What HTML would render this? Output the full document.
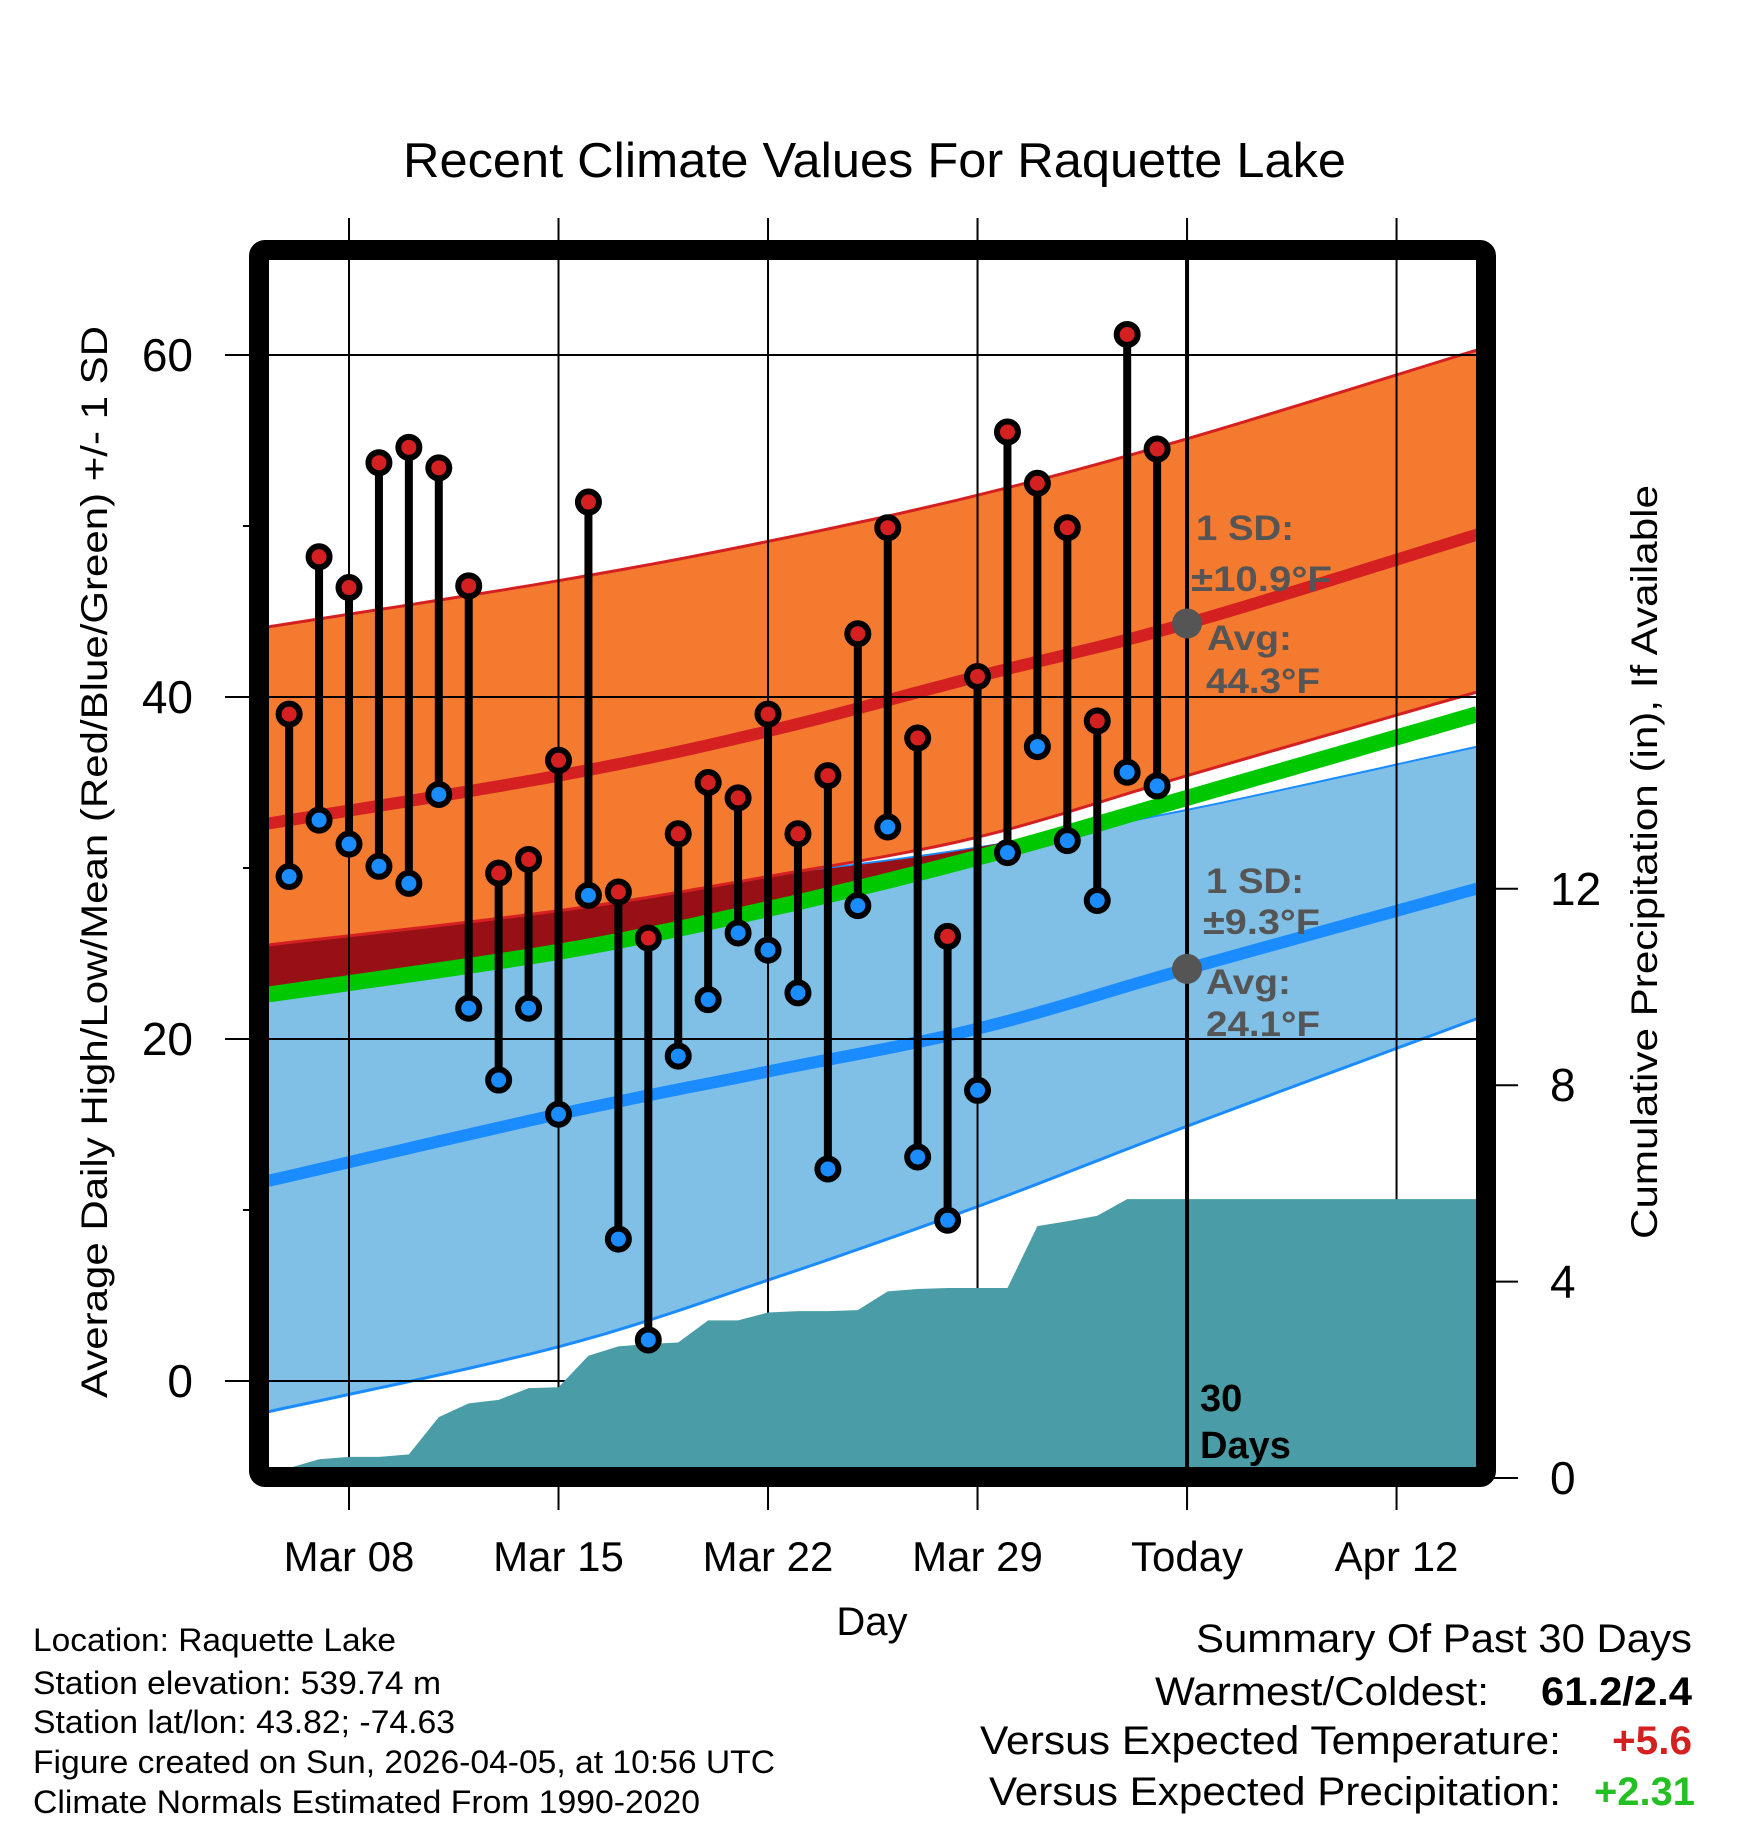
<!DOCTYPE html>
<html><head><meta charset="utf-8"><style>
html,body{margin:0;padding:0;background:#fff;}
svg{display:block;font-family:"Liberation Sans",Arial,sans-serif;}
</style></head><body>
<svg id="chart" width="1748" height="1828" viewBox="0 0 1748 1828" xmlns="http://www.w3.org/2000/svg">
<defs><clipPath id="plotclip"><rect x="268" y="258" width="1211" height="1212"/></clipPath></defs>
<text x="403" y="177" font-size="49" textLength="943" lengthAdjust="spacingAndGlyphs">Recent Climate Values For Raquette Lake</text>
<g id="bands" clip-path="url(#plotclip)"></g>
<g id="grid"></g>
<g id="precip" clip-path="url(#plotclip)"></g>
<g id="marks"></g>
<g id="annot" font-weight="bold" fill="#555" font-size="35">
<text x="1196" y="540" textLength="98" lengthAdjust="spacingAndGlyphs">1 SD:</text>
<text x="1191" y="591" textLength="141" lengthAdjust="spacingAndGlyphs">±10.9°F</text>
<text x="1207" y="650" textLength="85" lengthAdjust="spacingAndGlyphs">Avg:</text>
<text x="1206" y="693" textLength="114" lengthAdjust="spacingAndGlyphs">44.3°F</text>
<text x="1206" y="893" textLength="98" lengthAdjust="spacingAndGlyphs">1 SD:</text>
<text x="1203" y="934" textLength="117" lengthAdjust="spacingAndGlyphs">±9.3°F</text>
<text x="1206" y="994" textLength="85" lengthAdjust="spacingAndGlyphs">Avg:</text>
<text x="1206" y="1036" textLength="114" lengthAdjust="spacingAndGlyphs">24.1°F</text>
</g>
<g font-weight="bold" fill="#000" font-size="38">
<text x="1200" y="1411">30</text>
<text x="1200" y="1458">Days</text>
</g>
<rect x="259" y="250" width="1227" height="1227" rx="6" fill="none" stroke="#000" stroke-width="20"/>
<g id="axes"></g>
<text x="872" y="1635" font-size="40" text-anchor="middle">Day</text>
<text transform="translate(107,862) rotate(-90)" font-size="37" text-anchor="middle" textLength="1072" lengthAdjust="spacingAndGlyphs">Average Daily High/Low/Mean (Red/Blue/Green) +/- 1 SD</text>
<text transform="translate(1657,862) rotate(-90)" font-size="37" text-anchor="middle" textLength="754" lengthAdjust="spacingAndGlyphs">Cumulative Precipitation (in), If Available</text>
<g font-size="32">
<text x="33" y="1651" textLength="363" lengthAdjust="spacingAndGlyphs">Location: Raquette Lake</text>
<text x="33" y="1694" textLength="408" lengthAdjust="spacingAndGlyphs">Station elevation: 539.74 m</text>
<text x="33" y="1733" textLength="422" lengthAdjust="spacingAndGlyphs">Station lat/lon: 43.82; -74.63</text>
<text x="33" y="1773" textLength="742" lengthAdjust="spacingAndGlyphs">Figure created on Sun, 2026-04-05, at 10:56 UTC</text>
<text x="33" y="1813" textLength="667" lengthAdjust="spacingAndGlyphs">Climate Normals Estimated From 1990-2020</text>
</g>
<g font-size="40">
<text x="1196" y="1652" textLength="496" lengthAdjust="spacingAndGlyphs">Summary Of Past 30 Days</text>
<text x="1155" y="1705" textLength="334" lengthAdjust="spacingAndGlyphs">Warmest/Coldest:</text>
<text x="1541" y="1705" font-weight="bold" textLength="151" lengthAdjust="spacingAndGlyphs">61.2/2.4</text>
<text x="980" y="1754" textLength="581" lengthAdjust="spacingAndGlyphs">Versus Expected Temperature:</text>
<text x="1612" y="1754" font-weight="bold" fill="#d42020" textLength="80" lengthAdjust="spacingAndGlyphs">+5.6</text>
<text x="989" y="1805" textLength="572" lengthAdjust="spacingAndGlyphs">Versus Expected Precipitation:</text>
<text x="1594" y="1805" font-weight="bold" fill="#22c022" textLength="101" lengthAdjust="spacingAndGlyphs">+2.31</text>
</g>
</svg>
<script>
// observed data: days Mar 06 .. Apr 04 (offset from Mar 08)
const dayOffsets = [-2,-1,0,1,2,3,4,5,6,7,8,9,10,11,12,13,14,15,16,17,18,19,20,21,22,23,24,25,26,27];
const highs = [39.0,48.2,46.4,53.7,54.6,53.4,46.5,29.7,30.5,36.3,51.4,28.6,25.9,32.0,35.0,34.1,39.0,32.0,35.4,43.7,49.9,37.6,26.0,41.2,55.5,52.5,49.9,38.6,61.2,54.5];
const lows = [29.5,32.8,31.4,30.1,29.1,34.3,21.8,17.6,21.8,15.6,28.4,8.3,2.4,19.0,22.3,26.2,25.2,22.7,12.4,27.8,32.4,13.1,9.4,17.0,30.9,37.1,31.6,28.1,35.6,34.8];
const precip = [0.0,0.38,0.43,0.43,0.48,1.24,1.52,1.59,1.83,1.85,2.49,2.68,2.73,2.76,3.21,3.21,3.37,3.40,3.40,3.42,3.80,3.85,3.87,3.87,3.87,5.13,5.23,5.34,5.68,5.68];
// normals sampled at offsets
const normDays = [-2.7,7,14,21,28,37.7];
const highUpper = [44.1,46.8,49.1,51.8,55.1,60.3];
const highMean = [32.6,35.4,38.0,41.2,44.3,49.5];
const highLower = [25.5,27.5,29.5,31.8,35.4,40.3];
const meanAvg = [22.6,25.1,27.6,30.6,34.1,39.0];
const lowUpper = [25.7,27.6,29.5,31.2,33.4,37.1];
const lowMean = [11.7,15.6,18.1,20.6,24.1,28.8];
const lowLower = [-1.8,2.0,5.9,10.2,14.9,21.2];
const xTickDays = [0,7,14,21,28,35];
const xTickLabels = ["Mar 08","Mar 15","Mar 22","Mar 29","Today","Apr 12"];
const yTicks = [0,20,40,60];
const yMinor = [10,30,50];
const pTicks = [0,4,8,12];
const todayDay = 28;
const todayHighMean = 44.3, todayLowMean = 24.1;

const NS="http://www.w3.org/2000/svg";
function xS(d){return 349+d*29.93;}
function yT(v){return 1381-17.1*v;}
function yP(p){return Math.min(1478-49.1*p,1468);}
function mk(tag,attrs,parent){const e=document.createElementNS(NS,tag);for(const k in attrs)e.setAttribute(k,attrs[k]);parent.appendChild(e);return e;}
// smooth interpolation (Catmull-Rom) through sampled normals
function smooth(vals){
  const out=[];const n=normDays.length;
  for(let i=0;i<n-1;i++){
    const d0=normDays[Math.max(i-1,0)],d1=normDays[i],d2=normDays[i+1],d3=normDays[Math.min(i+2,n-1)];
    const v0=vals[Math.max(i-1,0)],v1=vals[i],v2=vals[i+1],v3=vals[Math.min(i+2,n-1)];
    for(let k=0;k<10;k++){
      const t=k/10,t2=t*t,t3=t2*t;
      const f=(a,b,c,d)=>0.5*(2*b+(-a+c)*t+(2*a-5*b+4*c-d)*t2+(-a+3*b-3*c+d)*t3);
      out.push([f(d0,d1,d2,d3),f(v0,v1,v2,v3)]);
    }
  }
  out.push([normDays[n-1],vals[n-1]]);
  return out.map(p=>xS(p[0]).toFixed(1)+","+yT(p[1]).toFixed(1));
}
function bandPath(up,lo){return "M"+smooth(up).join(" L")+" L"+smooth(lo).reverse().join(" L")+" Z";}
function linePath(vals){return "M"+smooth(vals).join(" L");}

const bands=document.getElementById('bands');
let e;
e=mk('path',{d:bandPath(lowUpper,lowLower),fill:'#80c0e6'},bands);


e=mk('path',{d:linePath(lowUpper),fill:'none',stroke:'#1a8cff','stroke-width':2},bands);


e=mk('path',{d:linePath(lowLower),fill:'none',stroke:'#1a8cff','stroke-width':3},bands);


const overlapTop=lowUpper.map((v,i)=>Math.max(v,meanAvg[i]));
e=mk('path',{d:bandPath(overlapTop,meanAvg),fill:'#961016'},bands);


e=mk('path',{d:bandPath(highUpper,highLower),fill:'#f47a30'},bands);


e=mk('path',{d:linePath(highUpper),fill:'none',stroke:'#d42020','stroke-width':3},bands);


e=mk('path',{d:linePath(highLower),fill:'none',stroke:'#d42020','stroke-width':3},bands);


e=mk('path',{d:linePath(meanAvg),fill:'none',stroke:'#00c800','stroke-width':16},bands);


e=mk('path',{d:linePath(highMean),fill:'none',stroke:'#d42020','stroke-width':12},bands);


e=mk('path',{d:linePath(lowMean),fill:'none',stroke:'#1a8cff','stroke-width':12},bands);



const grid=document.getElementById('grid');
const axes=document.getElementById('axes');
xTickDays.forEach((d,i)=>{
  const x=xS(d);
  const g=mk('line',{x1:x,x2:x,y1:218,y2:1510,stroke:'#000','stroke-width':2},grid);
  
  
  const t=mk('text',{x:x,y:1571,'text-anchor':'middle','font-size':42},axes);
  t.textContent=xTickLabels[i];
  
  
});
yTicks.forEach(v=>{
  const y=yT(v);
  const g=mk('line',{x1:225,x2:1480,y1:y,y2:y,stroke:'#000','stroke-width':2},grid);
  
  
  const t=mk('text',{x:193,y:y+16,'text-anchor':'end','font-size':46},axes);
  t.textContent=v;
  
  
});
yMinor.forEach(v=>{
  const y=yT(v);
  const g=mk('line',{x1:243,x2:255,y1:y,y2:y,stroke:'#000','stroke-width':2},grid);
  
  
});
pTicks.forEach(p=>{
  const y=1478-49.1*p;
  const g=mk('line',{x1:1490,x2:1518,y1:y,y2:y,stroke:'#000','stroke-width':2},axes);
  
  
  const t=mk('text',{x:1550,y:y+16,'font-size':46},axes);
  t.textContent=p;
  
  
});

// precipitation area
const pr=document.getElementById('precip');
let d="M"+xS(dayOffsets[0]-0.5)+",1470";
dayOffsets.forEach((dd,i)=>{d+=" L"+xS(dd).toFixed(1)+","+yP(precip[i]).toFixed(1);});
d+=" L1480,"+yP(precip[precip.length-1]).toFixed(1)+" L1480,1470 Z";
e=mk('path',{d:d,fill:'#4a9ca6'},pr);



const marks=document.getElementById('marks');
e=mk('line',{x1:xS(todayDay),x2:xS(todayDay),y1:255,y2:1470,stroke:'#000','stroke-width':4},marks);


dayOffsets.forEach((dd,i)=>{
  const x=xS(dd);
  const s=mk('line',{x1:x,x2:x,y1:yT(highs[i]),y2:yT(lows[i]),stroke:'#000','stroke-width':8},marks);
  
  
});
dayOffsets.forEach((dd,i)=>{
  const x=xS(dd);
  const h=mk('circle',{cx:x,cy:yT(highs[i]),r:10.5,fill:'#d42020',stroke:'#000','stroke-width':6},marks);
  
  
  const l=mk('circle',{cx:x,cy:yT(lows[i]),r:10.5,fill:'#1a8cff',stroke:'#000','stroke-width':6},marks);
  
  
});
e=mk('circle',{cx:xS(todayDay),cy:yT(todayHighMean),r:15,fill:'#555'},marks);


e=mk('circle',{cx:xS(todayDay),cy:yT(todayLowMean),r:15,fill:'#555'},marks);


</script>
</body></html>
